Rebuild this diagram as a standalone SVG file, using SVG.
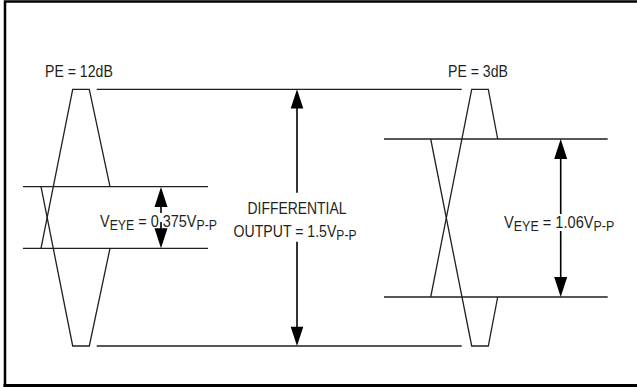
<svg xmlns="http://www.w3.org/2000/svg" width="637" height="387" viewBox="0 0 637 387">
<style>
.ln{stroke:#231f20;stroke-width:1.3;fill:none}
.st{stroke:#000;stroke-width:1.6;fill:none}
.hd{fill:#000}
text{font-family:"Liberation Sans",Arial,sans-serif;font-size:17px;fill:#231f20}
.sb{font-size:14.5px}
</style>
<rect width="637" height="387" fill="#fff"/>
<path d="M5,387 V1.5 H640" stroke="#000" stroke-width="2.5" fill="none"/>
<path d="M5,1.5 H640" stroke="#000" stroke-width="1.2" fill="none"/>
<path d="M3.5,385.5 H640" stroke="#000" stroke-width="3" fill="none"/>
<g id="left-eye">
<path class="ln" d="M41,248.3 L72.7,89.3 H89.3 L110,186.7"/>
<path class="ln" d="M41,186.7 L72.7,346 H89.3 L110,248.3"/>
<path class="ln" d="M23,186.7 H208 M23,248.3 H208"/>
<text transform="translate(45,77) scale(0.83,1)">PE = 12dB</text>
</g>
<g id="right-eye">
<path class="ln" d="M430.7,297 L471.7,89.3 H488.3 L497.7,139"/>
<path class="ln" d="M430.7,139 L471.7,346 H488.3 L497.7,297"/>
<path class="ln" d="M384,139 H607.7 M384,297 H607.7"/>
<text transform="translate(448,77) scale(0.83,1)">PE = 3dB</text>
</g>
<g id="rails">
<path class="ln" d="M96.7,89.3 H461.7 M96.7,346 H461.7"/>
</g>
<g id="connectors">
<path class="st" d="M161,195 V213 M161,222 V240"/>
<path class="hd" d="M161,187 L154.5,207 H167.5 Z M161,248.3 L154.5,228.3 H167.5 Z"/>
<path class="st" d="M297,100 V192.7 M297,241.7 V335"/>
<path class="hd" d="M297,89.3 L290.7,108.5 H303.3 Z M297,346 L290.7,326.8 H303.3 Z"/>
<path class="st" d="M560.7,150 V214 M560.7,231 V286"/>
<path class="hd" d="M560.7,139 L554.2,159 H567.2 Z M560.7,297 L554.2,277 H567.2 Z"/>
</g>
<g id="labels">
<text transform="translate(100,227) scale(0.85,1)">V<tspan class="sb" dy="3">EYE</tspan><tspan dy="-3"> = 0.375V</tspan><tspan class="sb" dy="3">P-P</tspan></text>
<text transform="translate(297,214) scale(0.82,1)" text-anchor="middle">DIFFERENTIAL</text>
<text transform="translate(295,237) scale(0.83,1)" text-anchor="middle">OUTPUT = 1.5V<tspan class="sb" dy="3">P-P</tspan></text>
<text transform="translate(504,228) scale(0.86,1)">V<tspan class="sb" dy="3">EYE</tspan><tspan dy="-3"> = 1.06V</tspan><tspan class="sb" dy="3">P-P</tspan></text>
</g>
</svg>
